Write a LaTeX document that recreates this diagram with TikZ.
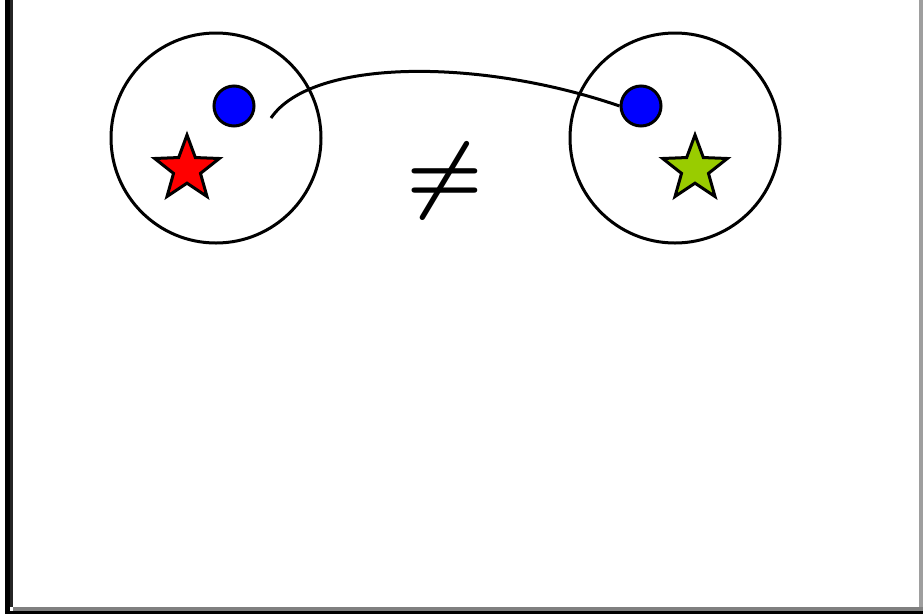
\documentclass[tikz,border=0pt]{standalone}
\usetikzlibrary{shapes.geometric}
\begin{document}
\begin{tikzpicture}[x=1pt,y=-1pt,
  ring/.style={draw=black,line width=3pt,circle,minimum size=210pt,inner sep=0pt},
  dot/.style={draw=black,line width=3pt,circle,fill=blue,minimum size=40pt,inner sep=0pt},
  starshape/.style={draw=black,line width=3pt,star,star points=5,star point ratio=2.4,minimum size=68pt,inner sep=0pt}]
\useasboundingbox (0,0) rectangle (923,614);
\fill[white] (0,0) rectangle (923,614);
% frame
\fill[black] (5,0) rectangle (10,614);
\fill[black!85] (10,0) rectangle (13,607);
\fill[black!50] (13,607) rectangle (923,610.5);
\fill[black!38] (919,0) rectangle (923,607);
\fill[black] (5,610.5) rectangle (923,614);
% left group
\node[ring] (cl) at (216,138) {};
\node[dot] (bl) at (234,106) {};
\node[starshape,fill=red] (sl) at (187,169) {};
% right group
\node[ring] (cr) at (675,138) {};
\node[dot] (br) at (641,106) {};
\node[starshape,fill={rgb,255:red,153;green,204;blue,0}] (sr) at (695,169) {};
% connector
\coordinate (c0) at (271,118);
\draw[line width=3pt] (c0) .. controls (312,58) and (480,58) .. (br.west);
% not equal
\node[scale=8.6,font=\boldmath] (ne) at (445,181) {$\neq$};
\end{tikzpicture}
\end{document}
